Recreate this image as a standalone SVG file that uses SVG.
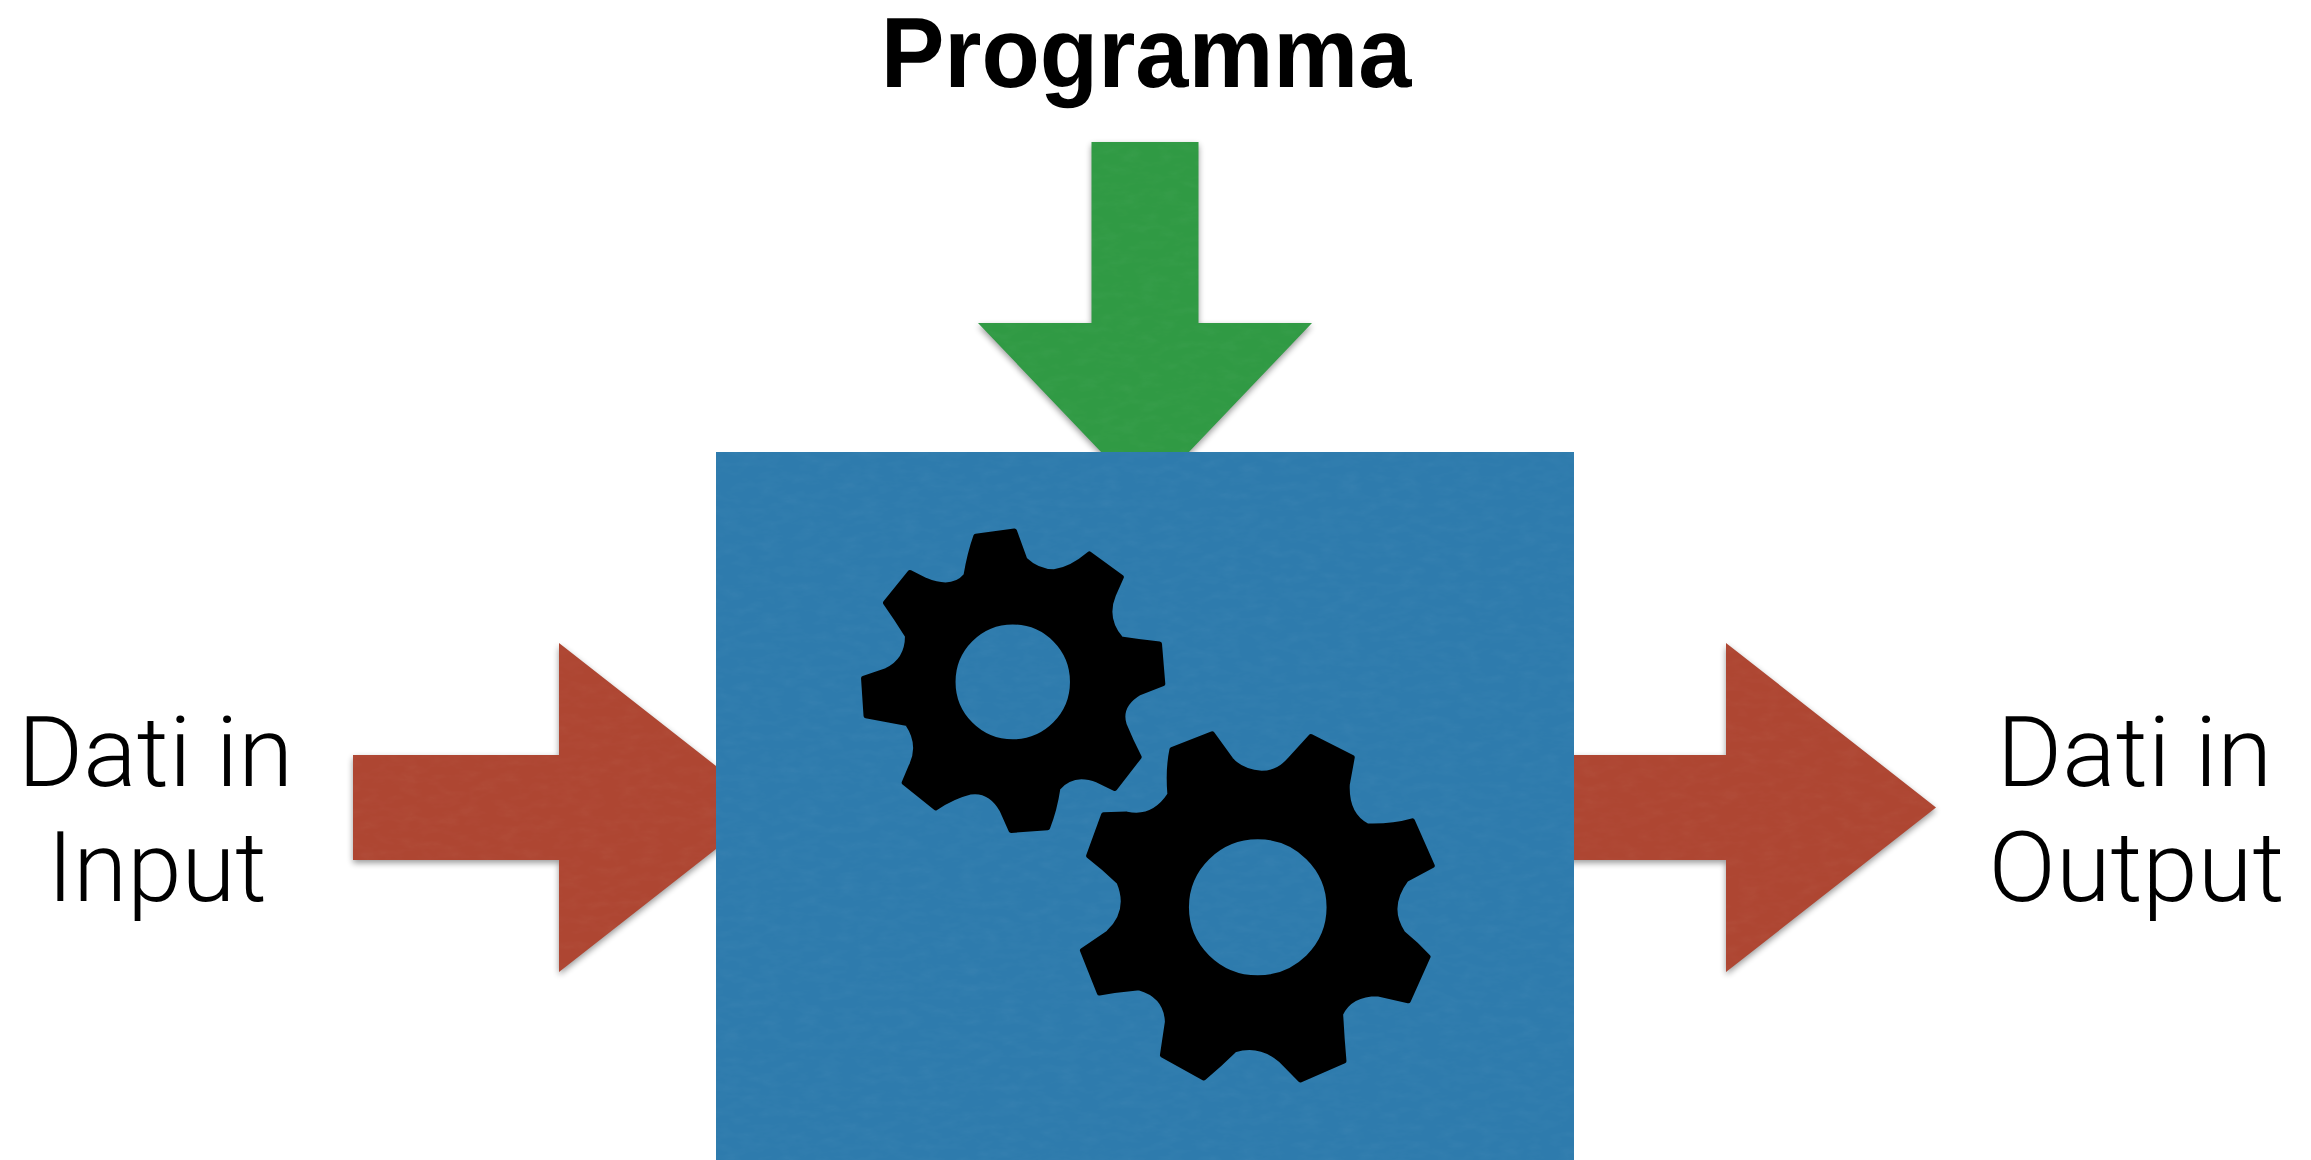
<svg xmlns="http://www.w3.org/2000/svg" width="2311" height="1160" viewBox="0 0 2311 1160">
<style>
text{text-rendering:geometricPrecision;text-anchor:middle}
.label{font-family:"Roboto","Liberation Sans",sans-serif;font-weight:300;font-size:98px;fill:#000}
.title{font-family:"Liberation Sans",Arial,sans-serif;font-weight:700;font-size:100px;fill:#000}
.red{fill:#ae4632;filter:url(#paperShadow)}
.green{fill:#309a44;filter:url(#paperShadow)}
.blue{fill:#2e7bad;filter:url(#paper)}
.gear{fill:#000;fill-rule:evenodd;stroke:#000;stroke-width:12;stroke-linejoin:round}
</style>
<defs>
<filter id="paper" x="0" y="0" width="100%" height="100%" color-interpolation-filters="sRGB">
<feTurbulence type="fractalNoise" baseFrequency="0.05 0.12" numOctaves="3" seed="4" result="n"/>
<feColorMatrix in="n" type="matrix" values="0 0 0 0 1  0 0 0 0 1  0 0 0 0 1  0.5 0 0 0 -0.2" result="w"/>
<feComposite in="w" in2="SourceGraphic" operator="in" result="tex"/>
<feComponentTransfer in="tex" result="t2"><feFuncA type="linear" slope="0.12"/></feComponentTransfer>
<feMerge><feMergeNode in="SourceGraphic"/><feMergeNode in="t2"/></feMerge>
</filter>
<filter id="paperShadow" x="-10%" y="-10%" width="120%" height="120%" color-interpolation-filters="sRGB">
<feGaussianBlur in="SourceAlpha" stdDeviation="3" result="b"/>
<feOffset in="b" dx="0" dy="3" result="o"/>
<feComponentTransfer in="o" result="s"><feFuncA type="linear" slope="0.4"/></feComponentTransfer>
<feTurbulence type="fractalNoise" baseFrequency="0.05 0.12" numOctaves="3" seed="9" result="n"/>
<feColorMatrix in="n" type="matrix" values="0 0 0 0 1  0 0 0 0 1  0 0 0 0 1  0.5 0 0 0 -0.2" result="w"/>
<feComposite in="w" in2="SourceGraphic" operator="in" result="tex"/>
<feComponentTransfer in="tex" result="t2"><feFuncA type="linear" slope="0.12"/></feComponentTransfer>
<feMerge><feMergeNode in="s"/><feMergeNode in="SourceGraphic"/><feMergeNode in="t2"/></feMerge>
</filter>
</defs>
<rect width="2311" height="1160" fill="#fff"/>
<g id="connectors">
<polygon id="arrow-programma" class="green" points="1091.5,142 1198.5,142 1198.5,323 1312,323 1145,498 978,323 1091.5,323"/>
<polygon id="arrow-input" class="red" points="353,755 559,755 559,643 769,807.5 559,972 559,860 353,860"/>
<polygon id="arrow-output" class="red" points="1520,755 1726,755 1726,643 1936,807.5 1726,972 1726,860 1520,860"/>
</g>
<g id="processor">
<rect class="blue" x="716" y="452" width="858" height="708"/>
<g transform="translate(820 500) scale(0.41454 0.3954)">
<path id="gear-small" class="gear" d="M376 91L469 78L494 150Q525 181 565 181Q605 176 650 136L727 195L708 240Q684 300 726 351Q770 358 819 364L827 465L770 488Q719 520 734 569Q750 610 770 650L711 730L670 709Q610 684 574 729Q566 785 549 829L461 836L439 784Q410 731 362 739Q320 750 279 779L203 715L219 675Q246 620 211 566Q150 554 111 546L105 451L160 431Q211 406 211 344Q185 300 158 260L217 183L255 203Q320 231 352 191Q361 135 376 91ZM609 460A144 151 0 1 0 321 460A144 151 0 1 0 609 460Z"/>
<path id="gear-large" class="gear" d="M849 631L946 591L991 656Q1015 686 1065 691Q1105 691 1134 656L1184 598L1284 651L1272 720Q1269 796 1320 824Q1380 826 1429 811L1477 925L1414 960Q1364 1030 1406 1095Q1440 1124 1467 1155L1419 1267L1345 1249Q1279 1249 1256 1300Q1259 1360 1264 1419L1159 1467L1111 1416Q1060 1371 1000 1391Q966 1426 926 1462L826 1404L838 1320Q836 1254 770 1234Q720 1239 674 1247L633 1139L696 1094Q751 1040 721 966Q684 929 648 900L684 796L740 794Q804 809 844 745Q839 680 849 631ZM1228 1030A172 178 0 1 0 884 1030A172 178 0 1 0 1228 1030Z"/>
</g>
</g>
<g id="labels">
<text class="title" transform="translate(1146 87) scale(0.955 1)">Programma</text>
<text class="label" transform="translate(155.5 786) scale(1.02 1)">Dati in</text>
<text class="label" transform="translate(157 901)">Input</text>
<text class="label" transform="translate(2134.5 786) scale(1.02 1)">Dati in</text>
<text class="label" transform="translate(2136.5 901) scale(1.015 1)">Output</text>
</g>
</svg>
